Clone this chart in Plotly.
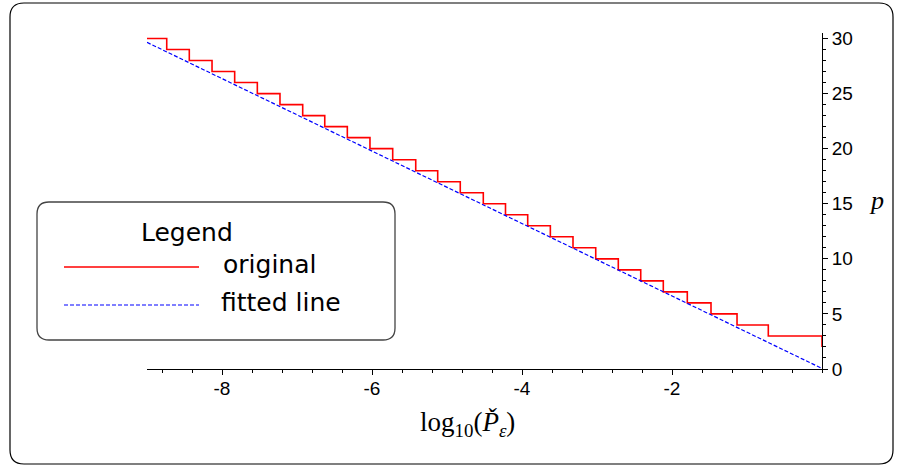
import plotly.graph_objects as go

# ---------------- data ----------------
# step function "original": breakpoints in log10(P) and level p held until next breakpoint
step_x = [-9.0, -8.737, -8.436, -8.133, -7.831, -7.529, -7.227, -6.924, -6.63,
          -6.329, -6.027, -5.724, -5.417, -5.124, -4.823, -4.516, -4.22,
          -3.924, -3.622, -3.32, -3.017, -2.716, -2.417, -2.116, -1.796,
          -1.48, -1.133, -0.716, 0.0]
step_p = [30, 29, 28, 27, 26, 25, 24, 23, 22, 21, 20, 19, 18, 17, 16, 15, 14,
          13, 12, 11, 10, 9, 8, 7, 6, 5, 4, 3, 2]

# fitted straight line
fit_x = [-9.0, 0.0]
fit_p = [29.65, 0.05]

x_tick_vals = [-8, -6, -4, -2]
x_tick_text = ["-8", "-6", "-4", "-2"]
y_tick_vals = [0, 5, 10, 15, 20, 25, 30]

legend_labels = ["original", "fitted line"]
legend_title = "Legend"

# ---------------- layout geometry (pixels) ----------------
W, H = 902, 467
PL, PR, PT, PB = 147, 822, 33, 369   # plot area edges in pixels


def px(x):
    return (x - PL) / (PR - PL)


def py(y):
    return (PB - y) / (PB - PT)


def rounded_rect(x0, y0, x1, y1, r):
    pts = [
        f"M{px(x0 + r)},{py(y0)}",
        f"L{px(x1 - r)},{py(y0)}",
        f"Q{px(x1)},{py(y0)} {px(x1)},{py(y0 + r)}",
        f"L{px(x1)},{py(y1 - r)}",
        f"Q{px(x1)},{py(y1)} {px(x1 - r)},{py(y1)}",
        f"L{px(x0 + r)},{py(y1)}",
        f"Q{px(x0)},{py(y1)} {px(x0)},{py(y1 - r)}",
        f"L{px(x0)},{py(y0 + r)}",
        f"Q{px(x0)},{py(y0)} {px(x0 + r)},{py(y0)}",
        "Z",
    ]
    return " ".join(pts)


RED = "#ff0000"
BLUE = "#0000ff"
DASH = "4px,2px"

fig = go.Figure()
fig.add_trace(go.Scatter(x=step_x, y=step_p, mode="lines", line_shape="hv",
                         line=dict(color=RED, width=1.6), name=legend_labels[0],
                         showlegend=False))
fig.add_trace(go.Scatter(x=fit_x, y=fit_p, mode="lines",
                         line=dict(color=BLUE, width=1.2, dash=DASH),
                         name=legend_labels[1], showlegend=False))

tick_font = dict(family="Liberation Sans, Arial, sans-serif", size=19, color="black")
legend_font = dict(family="DejaVu Sans, sans-serif", size=25, color="black")
serif = "Liberation Serif, Times New Roman, serif"

fig.update_layout(
    width=W, height=H,
    margin=dict(l=PL, r=W - PR, t=PT, b=H - PB),
    paper_bgcolor="white", plot_bgcolor="white",
    showlegend=False,
    xaxis=dict(range=[-9, 0], showgrid=False, zeroline=False, showline=True,
               linecolor="black", linewidth=1, ticks="outside", ticklen=5,
               tickcolor="black", tickvals=x_tick_vals, ticktext=x_tick_text,
               tickfont=tick_font, ticklabelstandoff=-3,
               minor=dict(tickmode="linear", tick0=0, dtick=0.4, ticklen=3,
                          ticks="outside", tickcolor="black")),
    yaxis=dict(range=[0, 30.5], side="right", showgrid=False, zeroline=False,
               showline=True, linecolor="black", linewidth=1, ticks="outside",
               ticklen=5, tickcolor="black", tickvals=y_tick_vals,
               tickfont=tick_font,
               minor=dict(tickmode="linear", tick0=0, dtick=1, ticklen=3,
                          ticks="outside", tickcolor="black")),
    shapes=[
        dict(type="path", xref="paper", yref="paper",
             path=rounded_rect(10, 3, 893, 464, 14),
             line=dict(color="black", width=1.2), layer="below"),
        dict(type="path", xref="paper", yref="paper",
             path=rounded_rect(37, 202, 395, 340, 12),
             line=dict(color="#444444", width=1.3), fillcolor="white",
             layer="above"),
        dict(type="line", xref="paper", yref="paper",
             x0=px(64), x1=px(199), y0=py(267), y1=py(267),
             line=dict(color=RED, width=1.6)),
        dict(type="line", xref="paper", yref="paper",
             x0=px(64), x1=px(199), y0=py(305), y1=py(305),
             line=dict(color=BLUE, width=1.2, dash=DASH)),
    ],
    annotations=[
        dict(text=legend_title, xref="paper", yref="paper", x=px(187), y=py(232),
             xanchor="center", yanchor="middle", showarrow=False, font=legend_font),
        dict(text=legend_labels[0], xref="paper", yref="paper", x=px(221), y=py(264),
             xanchor="left", yanchor="middle", showarrow=False, font=legend_font),
        dict(text=legend_labels[1], xref="paper", yref="paper", x=px(219), y=py(302),
             xanchor="left", yanchor="middle", showarrow=False, font=legend_font),
        dict(text="<i>p</i>", xref="paper", yref="paper", x=px(876), y=py(200),
             xanchor="center", yanchor="middle", showarrow=False,
             font=dict(family=serif, size=26, color="black")),
        dict(text="log<sub>10</sub>(<i>P\u030c</i><sub><i>\u03b5</i></sub>)",
             xref="paper", yref="paper", x=px(467), y=py(424),
             xanchor="center", yanchor="middle", showarrow=False,
             font=dict(family=serif, size=27, color="black")),
    ],
)

fig.write_html("out.html",
               config={"displayModeBar": False},
               post_script="document.body.style.margin='0';"
                           "document.body.style.padding='0';")
